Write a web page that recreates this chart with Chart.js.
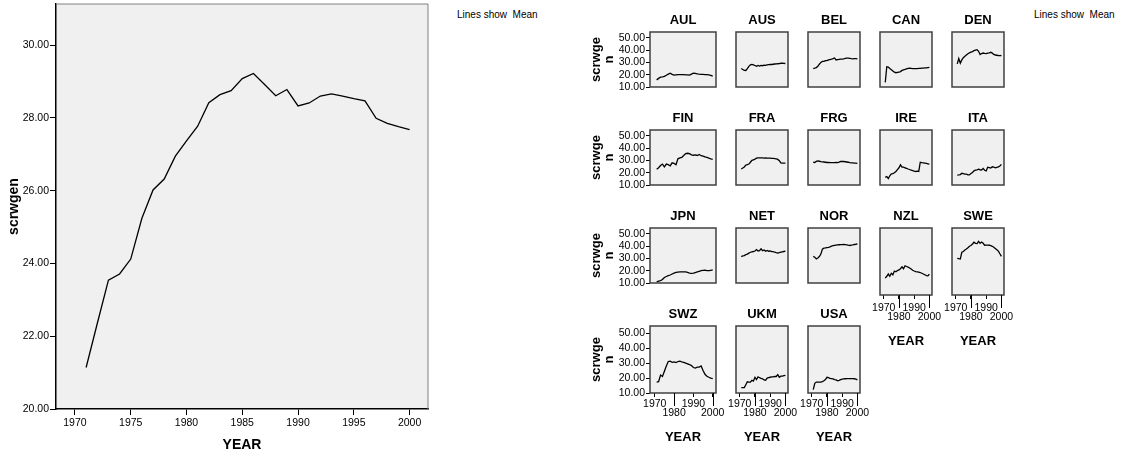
<!DOCTYPE html>
<html>
<head>
<meta charset="utf-8">
<script src="https://cdn.jsdelivr.net/npm/chart.js@4.4.1/dist/chart.umd.min.js"></script>
<style>
  html, body { margin: 0; padding: 0; background: #fff; }
  body { width: 1124px; height: 457px; position: relative; overflow: hidden;
         font-family: Arial, "Liberation Sans", sans-serif; }
  canvas { position: absolute; }
  .note { position: absolute; font-size: 10px; line-height: 12px; color: #000; white-space: pre; }
</style>
</head>
<body>
<div class="note" style="left:457px;top:9px">Lines show  Mean</div>
<div class="note" style="left:1034px;top:9px">Lines show  Mean</div>
<canvas id="main" width="440" height="457" style="left:0;top:0"></canvas>
<div id="grid"></div>
<script>
// ---- data ----
const YEARS = [1971, 1972, 1973, 1974, 1975, 1976, 1977, 1978, 1979, 1980,
               1981, 1982, 1983, 1984, 1985, 1986, 1987, 1988, 1989, 1990,
               1991, 1992, 1993, 1994, 1995, 1996, 1997, 1998, 1999, 2000];

const MEAN = [21.14, 22.35, 23.54, 23.71, 24.12, 25.24, 26.02, 26.32, 26.95, 27.37,
              27.77, 28.42, 28.64, 28.75, 29.08, 29.22, 28.92, 28.61, 28.78, 28.33,
              28.41, 28.60, 28.66, 28.60, 28.53, 28.47, 27.99, 27.85, 27.76, 27.68];

const COUNTRIES = ["AUL", "AUS", "BEL", "CAN", "DEN",
                   "FIN", "FRA", "FRG", "IRE", "ITA",
                   "JPN", "NET", "NOR", "NZL", "SWE",
                   "SWZ", "UKM", "USA"];

const AUL = [15.8, 17.0, 18.0, 18.2, 18.6, 19.5, 20.5, 21.2, 20.3, 19.6, 19.8, 20.0, 20.0, 20.1, 20.0,
             19.9, 19.9, 19.6, 20.4, 21.2, 21.0, 20.6, 20.4, 20.3, 20.2, 20.1, 20.0, 19.8, 19.5, 18.8];
const AUS = [25.0, 24.2, 23.5, 23.4, 25.0, 26.8, 28.0, 28.3, 28.0, 27.5, 26.8, 27.5, 27.0, 27.6, 27.3,
             27.8, 27.6, 28.0, 28.2, 28.4, 28.3, 28.5, 28.7, 28.8, 28.9, 29.0, 29.3, 29.4, 29.2, 29.1];
const BEL = [25.0, 25.3, 25.8, 26.8, 28.5, 30.0, 30.8, 30.9, 31.5, 31.4, 32.0, 32.3, 32.6, 33.0, 33.6,
             32.0, 32.3, 32.5, 32.6, 32.7, 32.9, 33.2, 33.4, 33.5, 33.3, 33.0, 32.8, 33.0, 33.1, 32.9];
const CAN = [13.8, 26.5, 26.2, 25.0, 24.0, 23.0, 22.0, 21.6, 21.8, 22.0, 22.5, 23.5, 24.0, 24.3, 24.8,
             25.2, 25.3, 25.2, 25.0, 24.9, 24.9, 25.0, 25.1, 25.2, 25.3, 25.4, 25.5, 25.6, 25.8, 26.0];
const DEN = [28.8, 33.2, 29.3, 32.0, 33.8, 35.0, 36.0, 37.0, 37.8, 38.3, 38.8, 39.5, 40.0, 40.3, 39.0,
             36.4, 37.2, 37.6, 37.3, 37.1, 37.5, 37.8, 38.2, 37.5, 36.5, 36.0, 35.8, 35.6, 35.5, 35.6];
const FIN = [22.8, 24.0, 25.8, 27.0, 24.8, 27.0, 26.5, 25.5, 28.0, 27.5, 26.5, 31.3, 32.0, 32.5, 34.0,
             35.6, 35.8, 35.5, 34.5, 34.2, 34.5, 34.0, 34.8, 33.8, 33.5, 32.8, 32.5, 31.8, 31.3, 30.9];
const FRA = [23.0, 23.8, 24.7, 26.2, 26.5, 27.0, 28.5, 30.0, 30.5, 31.0, 31.8, 32.0, 32.0, 32.0, 32.0,
             31.9, 32.0, 31.9, 31.8, 31.8, 31.7, 31.6, 31.5, 31.3, 30.8, 29.8, 28.0, 27.8, 27.8, 27.8];
const FRG = [28.5, 28.3, 29.2, 29.6, 29.3, 29.0, 28.8, 28.7, 28.5, 28.3, 28.3, 28.2, 28.2, 28.2, 28.2,
             28.3, 28.2, 28.6, 29.1, 29.2, 29.1, 28.9, 28.7, 28.5, 28.2, 28.0, 27.9, 27.8, 27.7, 27.6];
const IRE = [16.2, 16.9, 15.3, 17.5, 19.0, 19.3, 20.0, 21.0, 22.5, 24.0, 26.4, 24.5, 24.5, 24.0, 23.5,
             23.0, 22.6, 22.0, 21.6, 21.2, 21.0, 21.3, 21.0, 28.5, 28.2, 28.0, 27.8, 27.5, 27.2, 26.9];
const ITA = [18.0, 18.2, 18.5, 19.5, 19.2, 18.9, 18.8, 18.3, 18.2, 19.3, 20.2, 21.5, 22.0, 22.3, 22.8,
             22.4, 22.2, 23.5, 22.0, 21.4, 24.5, 24.2, 23.8, 24.8, 24.6, 24.0, 24.4, 24.7, 25.5, 26.8];
const JPN = [11.0, 11.6, 12.0, 12.8, 14.5, 15.3, 16.0, 16.5, 17.3, 18.0, 18.6, 18.9, 19.0, 19.0, 19.0,
             19.1, 18.6, 18.1, 17.8, 18.0, 18.5, 19.0, 19.5, 20.0, 20.3, 20.4, 20.1, 20.0, 20.3, 20.6];
const NET = [31.5, 32.0, 32.3, 33.0, 33.5, 34.3, 35.0, 35.3, 35.6, 36.0, 37.2, 36.0, 36.3, 37.8, 36.2,
             36.8, 35.8, 36.5, 35.8, 36.0, 35.5, 35.5, 35.0, 34.6, 34.4, 34.6, 35.0, 35.3, 35.6, 35.9];
const NOR = [31.6, 31.0, 29.6, 30.3, 31.5, 33.5, 37.5, 38.3, 38.5, 38.8, 39.0, 39.4, 40.0, 40.3, 40.6,
             40.8, 41.0, 41.1, 41.2, 41.2, 41.3, 41.2, 41.0, 40.7, 40.5, 40.8, 41.0, 41.3, 41.5, 41.8];
const NZL = [21.2, 22.5, 24.0, 22.5, 24.5, 23.5, 26.0, 25.5, 26.3, 26.8, 27.5, 28.8, 27.5, 29.5, 29.0,
             28.6, 28.0, 27.3, 26.5, 26.0, 25.6, 25.4, 25.2, 25.0, 24.5, 24.0, 23.5, 23.0, 22.8, 23.8];
const SWE = [34.4, 34.2, 34.0, 38.5, 39.0, 40.0, 40.7, 41.5, 42.5, 43.0, 44.0, 45.2, 44.5, 44.3, 45.8,
             44.5, 45.3, 44.5, 43.2, 43.3, 43.3, 43.2, 42.9, 42.5, 41.8, 41.0, 40.2, 39.3, 37.5, 35.8];
const SWZ = [17.3, 17.5, 22.0, 21.0, 24.5, 28.0, 31.0, 31.2, 30.5, 30.7, 30.3, 31.0, 31.2, 30.8, 30.5,
             30.0, 29.5, 29.0, 28.3, 27.0, 26.6, 27.2, 27.3, 28.0, 25.0, 22.5, 21.2, 20.5, 20.0, 19.6];
const UKM = [13.6, 13.6, 13.6, 15.5, 17.5, 17.3, 17.3, 18.5, 18.0, 20.5, 19.0, 20.8, 20.2, 19.8, 19.5,
             18.7, 18.5, 20.0, 20.3, 20.5, 20.7, 20.8, 21.0, 21.0, 22.3, 20.5, 21.2, 21.3, 21.6, 21.8];
const USA = [12.3, 16.5, 17.3, 17.3, 17.2, 17.3, 17.6, 18.2, 19.0, 20.5, 20.3, 19.8, 19.6, 19.4, 19.0,
             18.7, 18.1, 18.4, 18.9, 19.2, 19.4, 19.5, 19.6, 19.6, 19.6, 19.6, 19.6, 19.5, 19.2, 18.8];

const SERIES = { AUL, AUS, BEL, CAN, DEN, FIN, FRA, FRG, IRE, ITA,
                 JPN, NET, NOR, NZL, SWE, SWZ, UKM, USA };

const MAIN_X_TICKS = [1970, 1975, 1980, 1985, 1990, 1995, 2000];
const MAIN_Y_TICKS = [20, 22, 24, 26, 28, 30];
const SMALL_X_TICKS = [1970, 1980, 1990, 2000];
const SMALL_Y_TICKS = [10, 20, 30, 40, 50];
// panels that carry a YEAR axis
const WITH_X_AXIS = ["NZL", "SWE", "SWZ", "UKM", "USA"];

// ---- layout of the small-multiple grid ----
const COL_X = [650, 722, 794, 866, 938];
const ROW_Y = [32, 130, 228, 326];
const PW = 66, PH = 67;

Chart.defaults.font.family = 'Arial, "Liberation Sans", sans-serif';
Chart.defaults.color = "#000";
Chart.defaults.animation = false;

function points(values) {
  return YEARS.map((yr, i) => ({ x: yr, y: values[i] }));
}

// grey plot background, frame, and the long staggered ticks
const panelDeco = {
  id: "panelDeco",
  beforeDraw(chart, args, o) {
    const { ctx, chartArea: a } = chart;
    ctx.save();
    ctx.fillStyle = "#f0f0f0";
    ctx.fillRect(a.left, a.top, a.width, a.height);
    ctx.restore();
  },
  afterDraw(chart, args, o) {
    const { ctx, chartArea: a } = chart;
    ctx.save();
    ctx.strokeStyle = o.frameColor;
    ctx.lineWidth = o.frameWidth;
    if (o.frame === "all") {
      ctx.strokeRect(a.left, a.top, a.width, a.height);
    } else {
      ctx.beginPath();
      ctx.moveTo(a.left, a.top);
      ctx.lineTo(a.right, a.top);
      ctx.lineTo(a.right, a.bottom);
      ctx.stroke();
    }
    const xs = chart.scales.x;
    if (o.longTicks && xs.options.display) {
      ctx.strokeStyle = "#000";
      ctx.lineWidth = 1;
      for (const v of o.longTicks) {
        const px = Math.round(xs.getPixelForValue(v)) + 0.5;
        ctx.beginPath();
        ctx.moveTo(px, a.bottom);
        ctx.lineTo(px, a.bottom + 13);
        ctx.stroke();
      }
    }
    ctx.restore();
  },
};

function lineDataset(values) {
  return {
    data: points(values),
    borderColor: "#000",
    borderWidth: 1.3,
    pointRadius: 0,
    tension: 0,
    fill: false,
  };
}

// ---- left: overall mean ----
new Chart(document.getElementById("main"), {
  type: "line",
  data: { datasets: [lineDataset(MEAN)] },
  plugins: [panelDeco],
  options: {
    responsive: false,
    devicePixelRatio: 1,
    layout: { padding: { top: 4, right: 12, left: 0, bottom: 0 } },
    scales: {
      x: {
        type: "linear", min: 1968.3, max: 2001.65,
        afterBuildTicks: (s) => { s.ticks = MAIN_X_TICKS.map((v) => ({ value: v })); },
        afterFit: (s) => { s.height = 48; s.paddingLeft = 0; s.paddingRight = 0; },
        grid: { drawOnChartArea: false, tickLength: 6, color: "#000" },
        border: { color: "#000", width: 1.5 },
        ticks: { autoSkip: false, maxRotation: 0, padding: 2, font: { size: 10.5 },
                 callback: (v) => String(v) },
        title: { display: true, text: "YEAR", font: { size: 14, weight: "bold", lineHeight: 1 },
                 padding: { top: 0, bottom: 5 } },
      },
      y: {
        type: "linear", min: 20, max: 31.13,
        afterBuildTicks: (s) => { s.ticks = MAIN_Y_TICKS.map((v) => ({ value: v })); },
        afterFit: (s) => { s.width = 56; s.paddingTop = 0; s.paddingBottom = 0; },
        grid: { drawOnChartArea: false, tickLength: 6, color: "#000" },
        border: { color: "#000", width: 1.5 },
        ticks: { autoSkip: false, padding: 1, font: { size: 10.5 }, callback: (v) => v.toFixed(2) },
        title: { display: true, text: "scrwgen", font: { size: 14, weight: "bold", lineHeight: 1 },
                 padding: { top: 7, bottom: 0 } },
      },
    },
    plugins: {
      legend: { display: false },
      tooltip: { enabled: false },
      panelDeco: { frame: "topright", frameColor: "#808080", frameWidth: 1 },
    },
  },
});

// ---- right: one panel per country ----
const grid = document.getElementById("grid");

COUNTRIES.forEach((name, idx) => {
  const col = idx % 5, row = Math.floor(idx / 5);
  const hasY = col === 0;
  const hasX = WITH_X_AXIS.includes(name);
  const LM = hasY ? 62 : 14, RM = 14, TM = 30, BM = hasX ? 54 : 12;
  const tickPad = row === 3 ? 2 : 4;
  const titlePad = row === 3 ? 3.5 : 1;

  const canvas = document.createElement("canvas");
  canvas.width = LM + PW + RM;
  canvas.height = TM + PH + BM;
  canvas.style.left = (COL_X[col] - LM) + "px";
  canvas.style.top = (ROW_Y[row] - TM) + "px";
  grid.appendChild(canvas);

  new Chart(canvas, {
    type: "line",
    data: { datasets: [lineDataset(SERIES[name])] },
    plugins: [panelDeco],
    options: {
      responsive: false,
      devicePixelRatio: 1,
      layout: { padding: { top: 0, right: RM, left: hasY ? 0 : LM, bottom: hasX ? 0 : BM } },
      scales: {
        x: {
          type: "linear", min: 1967.55, max: 2001.7, display: hasX,
          afterBuildTicks: (s) => { s.ticks = SMALL_X_TICKS.map((v) => ({ value: v })); },
          afterFit: (s) => { s.height = BM; s.paddingLeft = 0; s.paddingRight = 0; },
          grid: { drawOnChartArea: false, tickLength: 4, color: "#000" },
          border: { display: false },
          ticks: {
            autoSkip: false, maxRotation: 0, minRotation: 0, padding: tickPad,
            font: { size: 10.5, lineHeight: 0.92 },
            callback: (v) => (v === 1980 || v === 2000 ? ["", String(v)] : String(v)),
          },
          title: { display: true, text: "YEAR", font: { size: 13, weight: "bold", lineHeight: 1 },
                   padding: { top: 0, bottom: titlePad } },
        },
        y: {
          type: "linear", min: 10, max: 54.7, display: hasY,
          afterBuildTicks: (s) => { s.ticks = SMALL_Y_TICKS.map((v) => ({ value: v })); },
          afterFit: (s) => { s.width = LM; s.paddingTop = 0; s.paddingBottom = 0; },
          grid: { drawOnChartArea: false, tickLength: 4, color: "#000" },
          border: { display: false },
          ticks: { autoSkip: false, padding: 1, font: { size: 10.5 }, callback: (v) => v.toFixed(2) },
          title: { display: true, text: ["scrwge", "n"],
                   font: { size: 13, weight: "bold", lineHeight: 1 },
                   padding: { top: 2, bottom: 0 } },
        },
      },
      plugins: {
        legend: { display: false },
        tooltip: { enabled: false },
        title: { display: true, text: name, fullSize: false,
                 font: { size: 13, weight: "bold", lineHeight: 1 },
                 padding: { top: 12, bottom: 5 } },
        panelDeco: { frame: "all", frameColor: "#404040", frameWidth: 1.5,
                     longTicks: [1980, 2000] },
      },
    },
  });
});
</script>
</body>
</html>
